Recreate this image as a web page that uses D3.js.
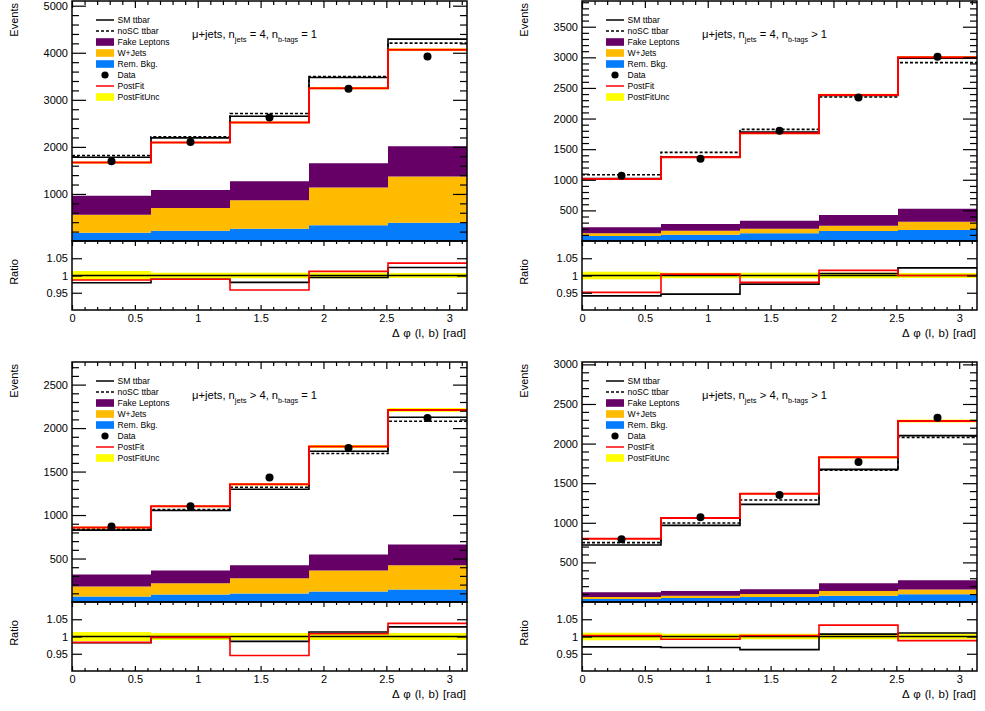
<!DOCTYPE html>
<html><head><meta charset="utf-8">
<script src="https://cdn.jsdelivr.net/npm/d3@7"></script>
<style>
body{margin:0;background:#fff}
text{font-family:"Liberation Sans",Arial,Helvetica,sans-serif;fill:#000}
</style>
</head><body>
<svg id="c" width="985" height="711"></svg>
<script>
// ---------- shared categories / ticks ----------
const binEdges = [0, 0.6283, 1.2566, 1.8850, 2.5133, 3.1416];
const xTicks = [0, 0.5, 1, 1.5, 2, 2.5, 3];
const ratioTicks = [0.95, 1, 1.05];
const legendLabels = ["SM ttbar","noSC ttbar","Fake Leptons","W+Jets","Rem. Bkg.","Data","PostFit","PostFitUnc"];

// ---------- panel 1: n_jets = 4, n_b-tags = 1 ----------
const p1Rem     = [177, 220, 262, 333, 390];
const p1WJets   = [383, 482, 604, 802, 978];
const p1Fake    = [404, 383, 404, 517, 646];
const p1SM      = [1780, 2191, 2652, 3475, 4290];
const p1NoSC    = [1816, 2213, 2709, 3496, 4205];
const p1PostFit = [1667, 2092, 2518, 3248, 4064];
const p1Data    = [1695, 2106, 2624, 3234, 3921];
const p1RatioSM   = [0.979, 0.989, 0.980, 0.994, 1.023];
const p1RatioPost = [0.987, 0.989, 0.958, 1.012, 1.036];
const p1Unc       = [0.013, 0.008, 0.008, 0.008, 0.007];
const p1YTicks  = [1000, 2000, 3000, 4000, 5000];

// ---------- panel 2: n_jets = 4, n_b-tags > 1 ----------
const p2Rem     = [81, 103, 125, 163, 180];
const p2WJets   = [44, 65, 76, 87, 135];
const p2Fake    = [98, 109, 131, 174, 213];
const p2SM      = [1021, 1371, 1778, 2376, 2986];
const p2NoSC    = [1083, 1448, 1824, 2353, 2913];
const p2PostFit = [1013, 1366, 1759, 2385, 3000];
const p2Data    = [1067, 1345, 1802, 2342, 3011];
const p2RatioSM   = [0.941, 0.946, 0.975, 1.006, 1.022];
const p2RatioPost = [0.951, 1.004, 0.980, 1.015, 1.000];
const p2Unc       = [0.011, 0.008, 0.008, 0.008, 0.007];
const p2YTicks  = [500, 1000, 1500, 2000, 2500, 3000, 3500];

// ---------- panel 3: n_jets > 4, n_b-tags = 1 ----------
const p3Rem     = [63, 86, 98, 121, 144];
const p3WJets   = [115, 130, 176, 241, 279];
const p3Fake    = [138, 146, 149, 184, 238];
const p3SM      = [826, 1052, 1297, 1734, 2124];
const p3NoSC    = [837, 1063, 1320, 1707, 2078];
const p3PostFit = [856, 1101, 1354, 1788, 2209];
const p3Data    = [868, 1101, 1431, 1772, 2115];
const p3RatioSM   = [0.982, 0.997, 0.986, 1.013, 1.028];
const p3RatioPost = [0.983, 0.998, 0.945, 1.008, 1.038];
const p3Unc       = [0.013, 0.010, 0.010, 0.010, 0.010];
const p3YTicks  = [500, 1000, 1500, 2000, 2500];

// ---------- panel 4: n_jets > 4, n_b-tags > 1 ----------
const p4Rem     = [38, 50, 63, 80, 97];
const p4WJets   = [25, 30, 38, 60, 60];
const p4Fake    = [59, 59, 59, 96, 117];
const p4SM      = [720, 968, 1233, 1675, 2100];
const p4NoSC    = [749, 997, 1288, 1663, 2079];
const p4PostFit = [799, 1061, 1367, 1827, 2285];
const p4Data    = [792, 1069, 1351, 1768, 2327];
const p4RatioSM   = [0.970, 0.968, 0.962, 1.007, 1.010];
const p4RatioPost = [1.003, 0.992, 1.003, 1.033, 0.988];
const p4Unc       = [0.011, 0.008, 0.008, 0.008, 0.008];
const p4YTicks  = [500, 1000, 1500, 2000, 2500, 3000];

const colors = {rem:"#047cfb", wjets:"#ffbb00", fake:"#660066", unc:"#ffff00", post:"#ff0000"};

const panels = [
  {left:72,  top:1,   yMax:5100, yTicks:p1YTicks, yMinor:200, rem:p1Rem, wjets:p1WJets, fake:p1Fake, sm:p1SM, nosc:p1NoSC, post:p1PostFit, data:p1Data, rSM:p1RatioSM, rPost:p1RatioPost, unc:p1Unc, nj:"= 4", nb:"= 1"},
  {left:582, top:1,   yMax:3920, yTicks:p2YTicks, yMinor:100, rem:p2Rem, wjets:p2WJets, fake:p2Fake, sm:p2SM, nosc:p2NoSC, post:p2PostFit, data:p2Data, rSM:p2RatioSM, rPost:p2RatioPost, unc:p2Unc, nj:"= 4", nb:"> 1"},
  {left:72,  top:362, yMax:2760, yTicks:p3YTicks, yMinor:100, rem:p3Rem, wjets:p3WJets, fake:p3Fake, sm:p3SM, nosc:p3NoSC, post:p3PostFit, data:p3Data, rSM:p3RatioSM, rPost:p3RatioPost, unc:p3Unc, nj:"> 4", nb:"= 1"},
  {left:582, top:362, yMax:3030, yTicks:p4YTicks, yMinor:100, rem:p4Rem, wjets:p4WJets, fake:p4Fake, sm:p4SM, nosc:p4NoSC, post:p4PostFit, data:p4Data, rSM:p4RatioSM, rPost:p4RatioPost, unc:p4Unc, nj:"> 4", nb:"> 1"}
];

const svg = d3.select("#c");
const W = 395, HU = 240, HR = 69;

function stepPts(vals){ return binEdges.map((e,i)=>[e, vals[Math.min(i, vals.length-1)]]); }

panels.forEach((p, pi) => {
  const g = svg.append("g");
  const x = d3.scaleLinear().domain([binEdges[0], binEdges[binEdges.length-1]]).range([p.left, p.left+W]);
  const yU = d3.scaleLinear().domain([0, p.yMax]).range([p.top+HU, p.top]);
  const rTop = p.top+HU, rBot = rTop+HR;
  const yR = d3.scaleLinear().domain([0.9, 1.1]).range([rBot, rTop]);

  const clipU = "clipU"+pi, clipR = "clipR"+pi;
  const defs = g.append("defs");
  defs.append("clipPath").attr("id", clipU).append("rect").attr("x", p.left).attr("y", p.top).attr("width", W).attr("height", HU);
  defs.append("clipPath").attr("id", clipR).append("rect").attr("x", p.left).attr("y", rTop).attr("width", W).attr("height", HR);

  // ---- upper: stacked backgrounds ----
  const table = binEdges.map((e,i)=>{ const k=Math.min(i,4); return {x:e, rem:p.rem[k], wjets:p.wjets[k], fake:p.fake[k]}; });
  const series = d3.stack().keys(["rem","wjets","fake"])(table);
  const area = d3.area().x(d=>x(d.data.x)).y0(d=>yU(d[0])).y1(d=>yU(d[1])).curve(d3.curveStepAfter);
  const gu = g.append("g").attr("clip-path", `url(#${clipU})`);
  gu.selectAll("path.stk").data(series).join("path").attr("class","stk")
    .attr("d", area).attr("fill", d=>colors[d.key]).attr("stroke", "none");

  const line = d3.line().x(d=>x(d[0])).y(d=>yU(d[1])).curve(d3.curveStepAfter);
  // yellow uncertainty band
  gu.selectAll("rect.unc").data(p.post).join("rect").attr("class","unc")
    .attr("x", (d,i)=>x(binEdges[i])).attr("width", (d,i)=>x(binEdges[i+1])-x(binEdges[i]))
    .attr("y", (d,i)=>yU(d*(1+p.unc[i]))).attr("height", (d,i)=>yU(d*(1-p.unc[i]))-yU(d*(1+p.unc[i])))
    .attr("fill", colors.unc);
  gu.append("path").attr("d", line(stepPts(p.sm))).attr("fill","none").attr("stroke","#000").attr("stroke-width",1.6);
  gu.append("path").attr("d", line(stepPts(p.nosc))).attr("fill","none").attr("stroke","#000").attr("stroke-width",1.6).attr("stroke-dasharray","3,2");
  gu.append("path").attr("d", line(stepPts(p.post))).attr("fill","none").attr("stroke",colors.post).attr("stroke-width",2);
  gu.selectAll("circle.dat").data(p.data).join("circle").attr("class","dat")
    .attr("cx", (d,i)=>x((binEdges[i]+binEdges[i+1])/2)).attr("cy", d=>yU(d)).attr("r", 4).attr("fill","#000");

  // ---- ratio ----
  const gr = g.append("g").attr("clip-path", `url(#${clipR})`);
  gr.selectAll("rect.runc").data(p.unc).join("rect").attr("class","runc")
    .attr("x", (d,i)=>x(binEdges[i])).attr("width", (d,i)=>x(binEdges[i+1])-x(binEdges[i]))
    .attr("y", d=>yR(1+d)).attr("height", d=>yR(1-d)-yR(1+d)).attr("fill", colors.unc);
  gr.append("line").attr("x1", p.left).attr("x2", p.left+W).attr("y1", yR(1)).attr("y2", yR(1)).attr("stroke","#000").attr("stroke-width",1.5);
  const rline = d3.line().x(d=>x(d[0])).y(d=>yR(d[1])).curve(d3.curveStepAfter);
  gr.append("path").attr("d", rline(stepPts(p.rSM))).attr("fill","none").attr("stroke","#000").attr("stroke-width",1.6);
  gr.append("path").attr("d", rline(stepPts(p.rPost))).attr("fill","none").attr("stroke",colors.post).attr("stroke-width",1.6);

  // ---- axes (ROOT style inward ticks) ----
  const tickStyle = sel => { sel.select(".domain").remove(); sel.selectAll("line").attr("stroke","#000").attr("stroke-width",1.2); sel.selectAll("text").attr("font-size", 11).attr("font-family", '"Liberation Sans",Arial,sans-serif'); };
  const minorU = d3.range(0, p.yMax+1e-6, p.yMinor).filter(v=>!p.yTicks.includes(v) && v>0);
  const xMinor = d3.range(0, 3.15, 0.1).map(v=>+v.toFixed(1)).filter(v=>!xTicks.includes(v));

  // upper y left
  g.append("g").attr("transform",`translate(${p.left},0)`).call(d3.axisLeft(yU).tickValues(p.yTicks).tickSize(-14).tickPadding(4).tickFormat(d3.format("d"))).call(tickStyle);
  g.append("g").attr("transform",`translate(${p.left},0)`).call(d3.axisLeft(yU).tickValues(minorU).tickSize(-7).tickFormat("")).call(tickStyle);
  // upper y right
  g.append("g").attr("transform",`translate(${p.left+W},0)`).call(d3.axisRight(yU).tickValues(p.yTicks).tickSize(-14).tickFormat("")).call(tickStyle);
  g.append("g").attr("transform",`translate(${p.left+W},0)`).call(d3.axisRight(yU).tickValues(minorU).tickSize(-7).tickFormat("")).call(tickStyle);
  // upper x top
  g.append("g").attr("transform",`translate(0,${p.top})`).call(d3.axisTop(x).tickValues(xTicks).tickSize(-7).tickFormat("")).call(tickStyle);
  g.append("g").attr("transform",`translate(0,${p.top})`).call(d3.axisTop(x).tickValues(xMinor).tickSize(-4).tickFormat("")).call(tickStyle);
  // ratio y left / right
  g.append("g").attr("transform",`translate(${p.left},0)`).call(d3.axisLeft(yR).tickValues(ratioTicks).tickSize(-10).tickPadding(4).tickFormat(d=>d3.format("")(d))).call(tickStyle);
  g.append("g").attr("transform",`translate(${p.left+W},0)`).call(d3.axisRight(yR).tickValues(ratioTicks).tickSize(-10).tickFormat("")).call(tickStyle);
  // ratio x top / bottom
  g.append("g").attr("transform",`translate(0,${rTop})`).call(d3.axisTop(x).tickValues(xTicks).tickSize(-5).tickFormat("")).call(tickStyle);
  g.append("g").attr("transform",`translate(0,${rTop})`).call(d3.axisTop(x).tickValues(xMinor).tickSize(-3).tickFormat("")).call(tickStyle);
  g.append("g").attr("transform",`translate(0,${rBot})`).call(d3.axisBottom(x).tickValues(xTicks).tickSize(-5).tickPadding(4).tickFormat(d3.format(""))).call(tickStyle);
  g.append("g").attr("transform",`translate(0,${rBot})`).call(d3.axisBottom(x).tickValues(xMinor).tickSize(-3).tickFormat("")).call(tickStyle);

  // frames
  g.append("rect").attr("x", p.left).attr("y", p.top).attr("width", W).attr("height", HU).attr("fill","none").attr("stroke","#000").attr("stroke-width",1.5);
  g.append("rect").attr("x", p.left).attr("y", rTop).attr("width", W).attr("height", HR).attr("fill","none").attr("stroke","#000").attr("stroke-width",1.5);

  // axis titles
  g.append("text").attr("transform",`translate(${p.left-54},${p.top+2}) rotate(-90)`).attr("text-anchor","end").attr("font-size",11).text("Events");
  g.append("text").attr("transform",`translate(${p.left-54},${rTop+31}) rotate(-90)`).attr("text-anchor","middle").attr("font-size",11).text("Ratio");
  g.append("text").attr("x", p.left+W-1).attr("y", rBot+27).attr("text-anchor","end").attr("font-size",11.5).attr("word-spacing",1).text("\u0394 \u03c6 (l, b) [rad]");

  // title
  const t = g.append("text").attr("x", p.left+120).attr("y", p.top+37).attr("font-size", 11.2);
  t.append("tspan").text("\u03bc+jets, n");
  t.append("tspan").attr("font-size", 7.6).attr("dy", 4).text("jets");
  t.append("tspan").attr("dy", -4).text(" " + p.nj + ", n");
  t.append("tspan").attr("font-size", 7.2).attr("dy", 4).text("b-tags");
  t.append("tspan").attr("dy", -4).text(" " + p.nb);

  // legend
  const lg = g.append("g");
  const rowY = i => p.top + 19 + i*11.0;
  const sx0 = p.left+24, sx1 = p.left+42;
  legendLabels.forEach((lab, i) => {
    const yy = rowY(i);
    if (i===0) lg.append("line").attr("x1",sx0).attr("x2",sx1).attr("y1",yy).attr("y2",yy).attr("stroke","#000").attr("stroke-width",1.5);
    if (i===1) lg.append("line").attr("x1",sx0).attr("x2",sx1).attr("y1",yy).attr("y2",yy).attr("stroke","#000").attr("stroke-width",1.5).attr("stroke-dasharray","3,2");
    if (i===2||i===3||i===4||i===7) {
      const c = [null,null,colors.fake,colors.wjets,colors.rem,null,null,colors.unc][i];
      lg.append("rect").attr("x",sx0).attr("y",yy-3.8).attr("width",sx1-sx0).attr("height",7.6).attr("fill",c);
    }
    if (i===5) lg.append("circle").attr("cx",(sx0+sx1)/2).attr("cy",yy).attr("r",3.6).attr("fill","#000");
    if (i===6) lg.append("line").attr("x1",sx0).attr("x2",sx1).attr("y1",yy).attr("y2",yy).attr("stroke",colors.post).attr("stroke-width",1.5);
    lg.append("text").attr("x", p.left+45.5).attr("y", yy+3).attr("font-size", 8.6).text(lab);
  });
});
</script>
</body></html>
